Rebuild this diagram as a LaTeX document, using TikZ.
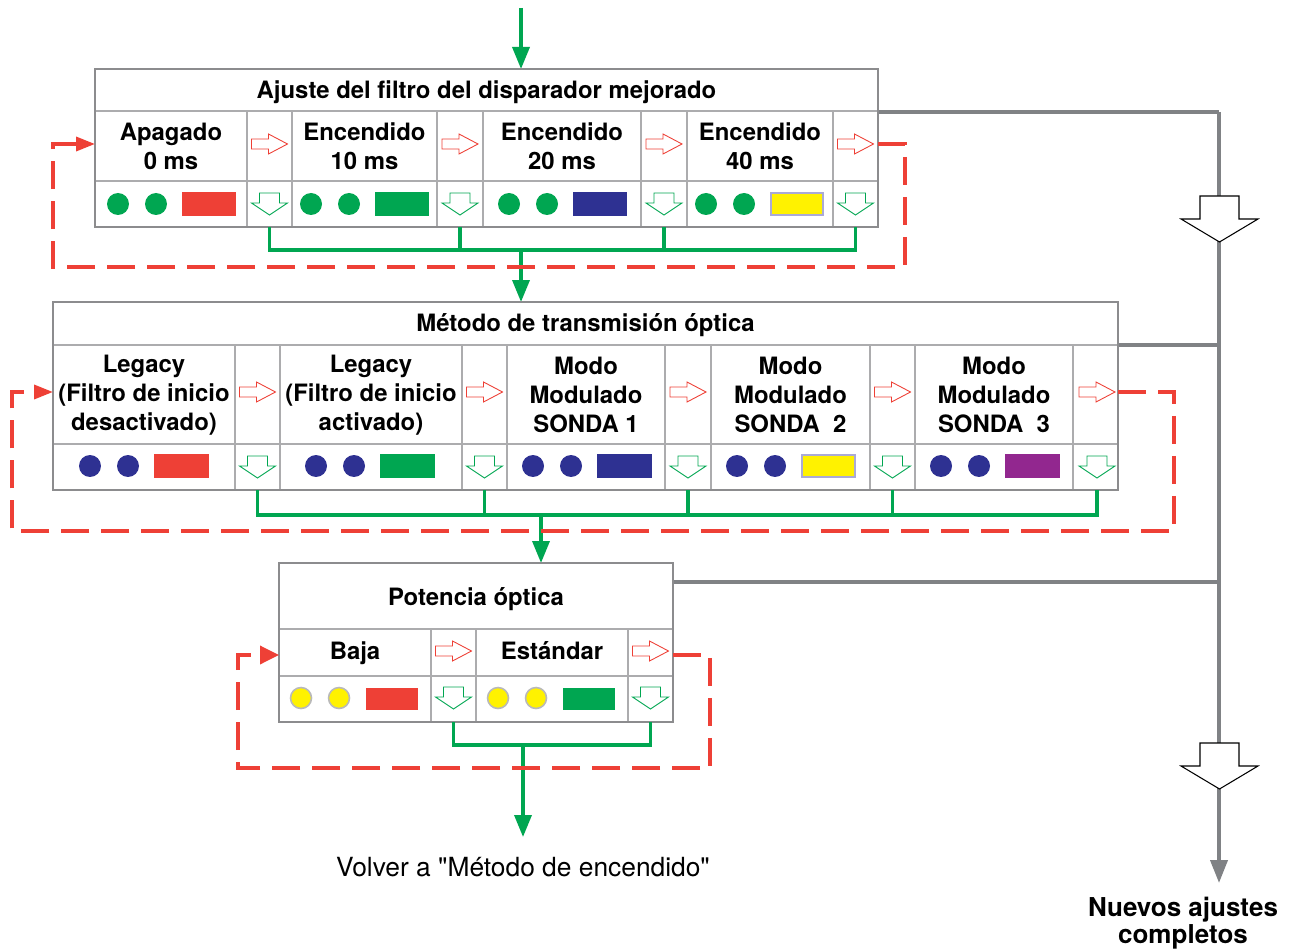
\documentclass[tikz,border=0pt]{standalone}
\usepackage{fontspec}
\setmainfont{TeX Gyre Heros}
\usetikzlibrary{arrows.meta}

\definecolor{okgreen}{RGB}{0,166,81}
\definecolor{loopred}{RGB}{238,64,54}
\definecolor{navy}{RGB}{46,49,146}
\definecolor{ledyellow}{RGB}{255,242,0}
\definecolor{ledpurple}{RGB}{146,39,143}
\definecolor{lavender}{RGB}{170,170,214}
\definecolor{framegray}{RGB}{140,140,142}
\definecolor{gridgray}{RGB}{172,172,174}
\definecolor{exitgray}{RGB}{128,130,133}

\tikzset{
  cell/.style={font=\fontsize{13.6}{16.6}\selectfont\bfseries, align=center, inner sep=0pt},
  head/.style={cell, anchor=base},
  boxframe/.style={draw=framegray, line width=1.6pt},
  gridline/.style={draw=gridgray, line width=0.9pt},
  flow/.style={okgreen, line width=2pt},
  loopback/.style={loopred, line width=2pt, dash pattern=on 5.6mm off 2.4mm},
  exit/.style={exitgray, line width=2.2pt},
  nextarr/.pic={\draw[loopred, line width=0.5pt, fill=white]
    (-18,-5) -- (-1,-5) -- (-1,-10) -- (18,0) -- (-1,10) -- (-1,5) -- (-18,5) -- cycle;},
  downarr/.pic={\draw[okgreen, line width=0.5pt, fill=white]
    (-10,-11) -- (10,-11) -- (10,-1) -- (18,-1) -- (0,11) -- (-18,-1) -- (-10,-1) -- cycle;},
  bigarr/.pic={\draw[black, line width=0.6pt, fill=white]
    (-19.5,-23) -- (19.5,-23) -- (19.5,0) -- (38.5,0) -- (0,23) -- (-38.5,0) -- (-19.5,0) -- cycle;}
}

\begin{document}
\begin{tikzpicture}[x=0.02cm,y=-0.02cm,>=Stealth]
\useasboundingbox (0,0) rectangle (1297,952);

% salida gris hacia "Nuevos ajustes completos"
\coordinate (e1) at (878,112);
\coordinate (e2) at (1118,345);
\coordinate (e3) at (673,582);
\coordinate (j1) at (1219,112);
\coordinate (donetip) at (1219,883);
\draw[exit] (e1) -- (j1);
\draw[exit] (e2) -- (e2 -| j1);
\draw[exit] (e3) -- (e3 -| j1);
\draw[exit,-{Triangle[length=4.6mm,width=3.4mm]}] (j1) -- (donetip);
\pic at (1219.5,219) {bigarr};
\pic at (1219.5,766) {bigarr};
\node[cell, font=\fontsize{14.8}{15.4}\selectfont\bfseries] (done) at (1183,923) {Nuevos ajustes\\completos};

% entrada
\coordinate (start) at (521,8);
\coordinate (b1top) at (521,69);
\draw[flow,-{Triangle[length=4.4mm,width=3.4mm]}] (start) -- (b1top);

% bloque 1: filtro del disparador
\foreach \x in {247,292,437,483,641,687,833} \draw[gridline] (\x,111) -- (\x,227);
\draw[gridline] (95,111) -- (878,111) (95,181) -- (878,181);
\draw[boxframe] (95,69) rectangle (878,227);
\node[head] (tf) at (486.5,99) {Ajuste del filtro del disparador mejorado};
\node[cell] (f1) at (171,146) {Apagado\\0 ms};
\node[cell] (f2) at (364.5,146) {Encendido\\10 ms};
\node[cell] (f3) at (562,146) {Encendido\\20 ms};
\node[cell] (f4) at (760,146) {Encendido\\40 ms};
\foreach \x/\c/\b in {118/loopred/loopred,311/okgreen/okgreen,509/navy/navy,706/ledyellow/lavender} {
  \fill[okgreen] (\x,204) circle[radius=0.22cm] (\x+38,204) circle[radius=0.22cm];
  \filldraw[fill=\c, draw=\b, line width=0.8pt] (\x+65,193) rectangle (\x+117,215);
}
\foreach \x [count=\i] in {269.5,460,664,855.5} {
  \pic at (\x,144) {nextarr};
  \pic at (\x,204) {downarr};
  \coordinate (fa\i) at (\x,227);
}
\coordinate (fj) at (521,250);
\coordinate (b2top) at (521,302);
\draw[flow] (fa1) |- (fa4 |- fj) -- (fa4);
\draw[flow] (fa2) -- (fa2 |- fj) (fa3) -- (fa3 |- fj);
\draw[flow,-{Triangle[length=4.4mm,width=3.4mm]}] (fj) -- (b2top);
\coordinate (fout) at (878,144);
\coordinate (fin) at (95,144);
\draw[loopback,-{Triangle[length=3.8mm,width=2.8mm]}] (fout) -| (905,267) -| (53,144) -- (fin);

% bloque 2: transmision optica
\foreach \x in {235,280,462,507,665,711,870,915,1073} \draw[gridline] (\x,345) -- (\x,490);
\draw[gridline] (53,345) -- (1118,345) (53,444) -- (1118,444);
\draw[boxframe] (53,302) rectangle (1118,490);
\node[head] (tm) at (585.5,332) {Método de transmisión óptica};
\node[cell] (m1) at (144,395) {Legacy\\(Filtro de inicio\\desactivado)};
\node[cell] (m2) at (371,395) {Legacy\\(Filtro de inicio\\activado)};
\node[cell] (m3) at (586,395) {Modo\\Modulado\\SONDA 1};
\node[cell] (m4) at (790.5,395) {Modo\\Modulado\\SONDA\ \ 2};
\node[cell] (m5) at (994,395) {Modo\\Modulado\\SONDA\ \ 3};
\foreach \x/\c/\b in {90/loopred/loopred,316/okgreen/okgreen,533/navy/navy,737/ledyellow/lavender,941/ledpurple/ledpurple} {
  \fill[navy] (\x,466) circle[radius=0.22cm] (\x+38,466) circle[radius=0.22cm];
  \filldraw[fill=\c, draw=\b, line width=0.8pt] (\x+65,455) rectangle (\x+118,477);
}
\foreach \x [count=\i] in {257.5,484.5,688,892.5,1097} {
  \pic at (\x,392) {nextarr};
  \pic at (\x,467) {downarr};
  \coordinate (ma\i) at (\x,490);
}
\coordinate (mj) at (541,515);
\coordinate (b3top) at (541,563);
\draw[flow] (ma1) |- (ma5 |- mj) -- (ma5);
\draw[flow] (ma2) -- (ma2 |- mj) (ma3) -- (ma3 |- mj) (ma4) -- (ma4 |- mj);
\draw[flow,-{Triangle[length=4.4mm,width=3.4mm]}] (mj) -- (b3top);
\coordinate (mout) at (1118,392);
\coordinate (min) at (53,392);
\draw[loopback,-{Triangle[length=3.8mm,width=2.8mm]}] (mout) -| (1174,531) -| (12,392) -- (min);

% bloque 3: potencia optica
\foreach \x in {431,476,628} \draw[gridline] (\x,629) -- (\x,722);
\draw[gridline] (279,629) -- (673,629) (279,676) -- (673,676);
\draw[boxframe] (279,563) rectangle (673,722);
\node[head] (tp) at (476,605) {Potencia óptica};
\node[head] (p1) at (355,659) {Baja};
\node[head] (p2) at (552,659) {Estándar};
\foreach \x/\c in {301/loopred,498/okgreen} {
  \filldraw[fill=ledyellow, draw=gray!55, line width=0.9pt] (\x,698) circle[radius=0.21cm] (\x+38,698) circle[radius=0.21cm];
  \fill[\c] (\x+65,688) rectangle (\x+117,710);
}
\foreach \x [count=\i] in {453.5,650.5} {
  \pic at (\x,651) {nextarr};
  \pic at (\x,698) {downarr};
  \coordinate (pa\i) at (\x,722);
}
\coordinate (pj) at (523,745);
\coordinate (backtip) at (523,837);
\draw[flow] (pa1) |- (pa2 |- pj) -- (pa2);
\draw[flow,-{Triangle[length=4.4mm,width=3.4mm]}] (pj) -- (backtip);
\coordinate (pout) at (673,655);
\coordinate (pin) at (279,655);
\draw[loopback,-{Triangle[length=3.8mm,width=3.6mm]}] (pout) -| (710,768) -| (238,655) -- (pin);
\node[anchor=base, font=\fontsize{15}{18}\selectfont] (back) at (523,876) {Volver a \textquotedbl Método de encendido\textquotedbl};

\end{tikzpicture}
\end{document}
